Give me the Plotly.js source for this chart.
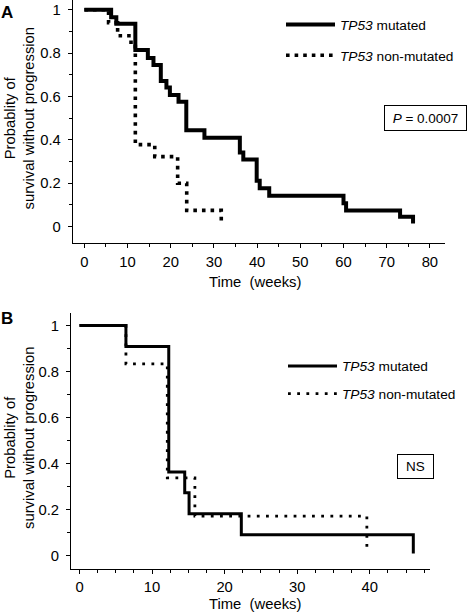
<!DOCTYPE html>
<html>
<head>
<meta charset="utf-8">
<script src="https://cdn.plot.ly/plotly-3.0.1.min.js"></script>
<style>html,body{margin:0;padding:0;background:#fff;}#chart{width:468px;height:614px;}</style>
</head>
<body>
<div id="chart"></div>
<script>
// ---- Data ----
// Panel A
var aMutTime   = [0, 6.2, 7.4, 11.8, 14.7, 16.0, 17.7, 19.0, 19.8, 21.8, 23.6, 27.8, 36.0, 36.8, 39.9, 40.6, 42.8, 60.0, 60.6, 73.1, 76.1];
var aMutSurv   = [1, 0.965, 0.935, 0.815, 0.778, 0.745, 0.672, 0.642, 0.607, 0.576, 0.445, 0.41, 0.342, 0.31, 0.212, 0.177, 0.142, 0.108, 0.074, 0.046, 0.015];
var aNonTime   = [0, 5.6, 7.7, 10.8, 11.8, 16.3, 21.6, 23.7, 31.7];
var aNonSurv   = [1, 0.94, 0.88, 0.83, 0.378, 0.323, 0.2, 0.075, 0.02];
// Panel B
var bMutTime   = [0, 6.4, 12.3, 14.5, 15.1, 22.3, 46.0];
var bMutSurv   = [1, 0.909, 0.364, 0.273, 0.182, 0.091, 0.01];
var bNonTime   = [0, 6.4, 12.1, 15.9, 39.6];
var bNonSurv   = [1, 0.833, 0.338, 0.172, 0.02];

var seriesNames = ['<i>TP53</i> mutated', '<i>TP53</i> non-mutated'];
var yTickVals = [0, 0.2, 0.4, 0.6, 0.8, 1];
var yTickText = ['0', '0.2', '0.4', '0.6', '0.8', '1'];
var aXTicks = [0, 10, 20, 30, 40, 50, 60, 70, 80];
var bXTicks = [0, 10, 20, 30, 40];
var pTextA = '<i>P</i> = 0.0007';
var pTextB = 'NS';
var yTitle = 'Probablity of<br>survival without progression';
var xTitle = 'Time\u00a0 (weeks)';

var FONT = 'Liberation Sans, Arial, Helvetica, sans-serif';
var W = 468, H = 614;
function px(x){ return x / W; }
function py(y){ return 1 - y / H; }

var traces = [
  {x: aMutTime, y: aMutSurv, xaxis:'x', yaxis:'y', mode:'lines', line:{shape:'hv', color:'#000', width:4}, name: seriesNames[0], legend:'legend', legendgroup:'a1'},
  {x: aNonTime, y: aNonSurv, xaxis:'x', yaxis:'y', mode:'lines', line:{shape:'hv', color:'#000', width:3.6, dash:'3.6px,5px'}, name: seriesNames[1], legend:'legend', legendgroup:'a2'},
  {x: bMutTime, y: bMutSurv, xaxis:'x2', yaxis:'y2', mode:'lines', line:{shape:'hv', color:'#000', width:3}, name: seriesNames[0], legend:'legend2', legendgroup:'b1'},
  {x: bNonTime, y: bNonSurv, xaxis:'x2', yaxis:'y2', mode:'lines', line:{shape:'hv', color:'#000', width:2.8, dash:'2.8px,6.4px'}, name: seriesNames[1], legend:'legend2', legendgroup:'b2'}
];

function xAxis(domain, range, ticks, minorDt, anchor, standoff){
  return {domain: domain, range: range, anchor: anchor, tickmode:'array', tickvals: ticks, ticktext: ticks.map(String),
    ticks:'outside', ticklen:4, tickwidth:1, tickcolor:'#000', showline:true, linecolor:'#000', linewidth:1,
    showgrid:false, zeroline:false, ticklabelstandoff:standoff,
    tickfont:{family:FONT, size:14.8, color:'#000'},
    minor:{dtick:minorDt, tick0:0, ticks:'outside', ticklen:3, tickwidth:1, tickcolor:'#000', showgrid:false},
    fixedrange:true};
}
function yAxis(domain, range, anchor){
  return {domain: domain, range: range, anchor: anchor, tickmode:'array', tickvals: yTickVals, ticktext: yTickText,
    ticks:'outside', ticklen:4, tickwidth:1, tickcolor:'#000', showline:true, linecolor:'#000', linewidth:1,
    showgrid:false, zeroline:false, ticklabelstandoff:4,
    tickfont:{family:FONT, size:14.8, color:'#000'},
    minor:{dtick:0.1, tick0:0, ticks:'outside', ticklen:3, tickwidth:1, tickcolor:'#000', showgrid:false},
    fixedrange:true};
}

var legendBase = {xanchor:'left', yanchor:'top', bgcolor:'rgba(0,0,0,0)', borderwidth:0,
  font:{family:FONT, size:13.7, color:'#000'}, itemwidth:49, traceorder:'grouped', itemclick:false, itemdoubleclick:false};

var layout = {
  width: W, height: H,
  margin:{l:0, r:0, t:0, b:0},
  paper_bgcolor:'#fff', plot_bgcolor:'#fff',
  showlegend:true,
  font:{family:FONT, color:'#000'},
  xaxis:  xAxis([px(72.7), px(445)], [-2.7, 83.5], aXTicks, 5, 'y', 2),
  yaxis:  yAxis([py(242.7), 1], [-0.074, 1.045], 'x'),
  xaxis2: xAxis([px(71), px(430)], [-1.17, 48.3], bXTicks, 2.5, 'y2', 0),
  yaxis2: yAxis([py(569.3), py(313)], [-0.059, 1.054], 'x2'),
  legend:  Object.assign({}, legendBase, {x: px(281), y: py(9), tracegroupgap:10}),
  legend2: Object.assign({}, legendBase, {x: px(283), y: py(350.5), tracegroupgap:7}),
  annotations: [
    {text:'<b>A</b>', x:px(7), y:py(12.5), xref:'paper', yref:'paper', showarrow:false, xanchor:'center', yanchor:'middle', font:{family:FONT, size:17, color:'#000'}},
    {text:'<b>B</b>', x:px(7), y:py(318), xref:'paper', yref:'paper', showarrow:false, xanchor:'center', yanchor:'middle', font:{family:FONT, size:17, color:'#000'}},
    {text:yTitle, textangle:-90, x:px(19.5), y:py(118), xref:'paper', yref:'paper', showarrow:false, xanchor:'center', yanchor:'middle', font:{family:FONT, size:14.8, color:'#000'}},
    {text:yTitle, textangle:-90, x:px(19), y:py(438), xref:'paper', yref:'paper', showarrow:false, xanchor:'center', yanchor:'middle', font:{family:FONT, size:14.8, color:'#000'}},
    {text:xTitle, x:px(255.5), y:py(281.7), xref:'paper', yref:'paper', showarrow:false, xanchor:'center', yanchor:'middle', font:{family:FONT, size:14.8, color:'#000'}},
    {text:xTitle, x:px(255.5), y:py(604), xref:'paper', yref:'paper', showarrow:false, xanchor:'center', yanchor:'middle', font:{family:FONT, size:14.8, color:'#000'}},
    {text:pTextA, x:px(425.5), y:py(118), xref:'paper', yref:'paper', showarrow:false, xanchor:'center', yanchor:'middle', width:79, height:22, borderpad:1, bordercolor:'#000', borderwidth:1, bgcolor:'#fff', font:{family:FONT, size:13.5, color:'#000'}},
    {text:pTextB, x:px(415.7), y:py(466.7), xref:'paper', yref:'paper', showarrow:false, xanchor:'center', yanchor:'middle', width:33, height:21, borderpad:1, bordercolor:'#000', borderwidth:1, bgcolor:'#fff', font:{family:FONT, size:13.5, color:'#000'}}
  ]
};

Plotly.newPlot('chart', traces, layout, {displayModeBar:false, staticPlot:true});
</script>
</body>
</html>
